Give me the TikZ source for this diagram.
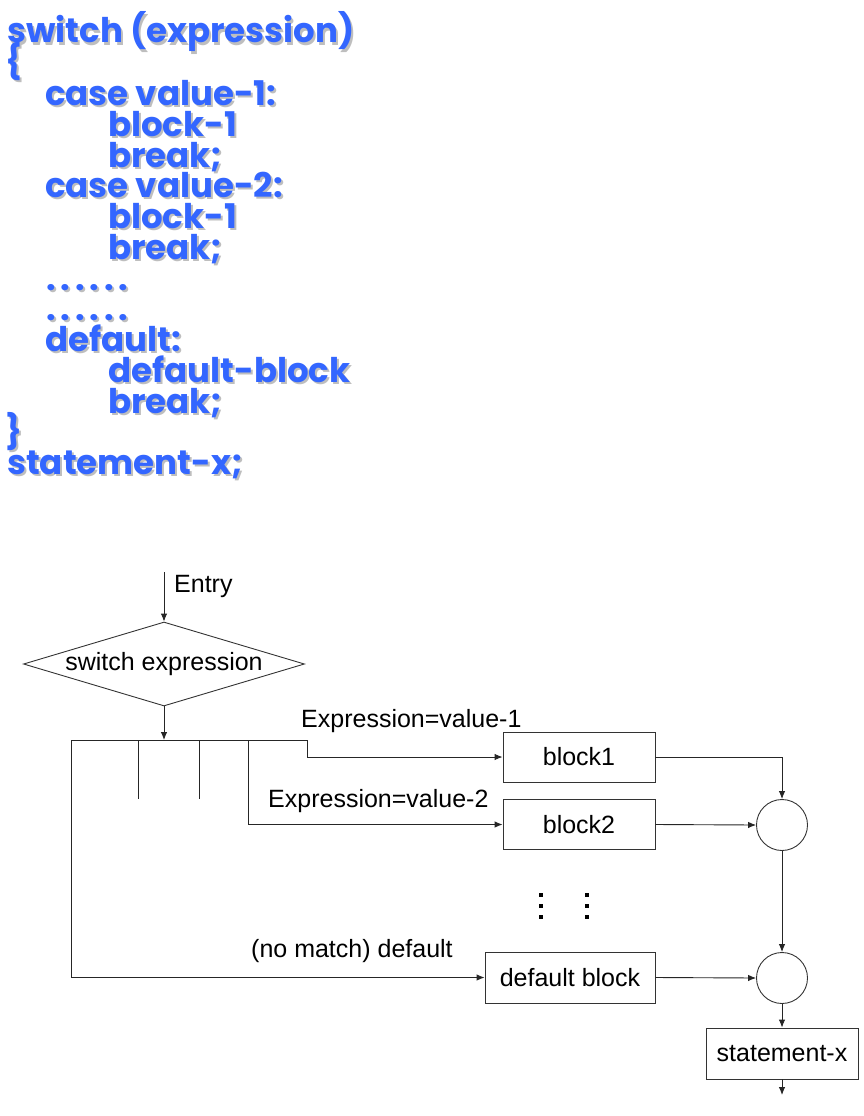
\documentclass[tikz,border=0pt]{standalone}
\usepackage{fontspec}
\setmainfont{Liberation Sans}
\newfontfamily\codefont{Poppins}
\usetikzlibrary{arrows.meta,shapes.geometric}
\definecolor{codeblue}{RGB}{51,102,255}
\definecolor{codeshade}{RGB}{190,190,190}
\newcommand\codeline[4]{%
  \node[codetxt] (#1) at (#2,#3) {\rlap{\hspace{2pt}\raisebox{-2pt}{\color{codeshade}#4}}#4};}
\newcommand\dotrow{\makebox[14.5pt][l]{.}\makebox[14.5pt][l]{.}\makebox[14.5pt][l]{.}\makebox[14.5pt][l]{.}\makebox[14.5pt][l]{.}\makebox[14.5pt][l]{.}}
\begin{document}
\begin{tikzpicture}[x=1pt,y=-1pt,
  codetxt/.style={anchor=base west,inner sep=0pt,text=codeblue,font=\codefont\bfseries\fontsize{34}{40}\selectfont},
  lbl/.style={anchor=base west,inner sep=0pt,font=\fontsize{25}{30}\selectfont},
  boxnode/.style={draw=black!80,line width=0.9pt,inner sep=0pt,font=\fontsize{25}{30}\selectfont},
  joinnode/.style={circle,draw=black!80,line width=0.9pt,minimum size=51pt,inner sep=0pt},
  conn/.style={line width=0.9pt,black!85},
  arr/.style={conn,-{Latex[length=8pt,width=6.5pt]}}
]
\useasboundingbox (0,0) rectangle (863,1116);
% ---- code ----
\codeline{l0}{7}{43}{switch (expression)}
\codeline{l1}{5}{74}{\{}
\codeline{l2}{45}{105}{case value-1:}
\codeline{l3}{108}{136}{block-1}
\codeline{l4}{108}{167}{break;}
\codeline{l5}{45}{197}{case value-2:}
\codeline{l6}{108}{228}{block-1}
\codeline{l7}{108}{259}{break;}
\codeline{l8}{46}{290}{\dotrow}
\codeline{l9}{46}{320}{\dotrow}
\codeline{l10}{45}{351}{default:}
\codeline{l11}{108}{382}{default-block}
\codeline{l12}{108}{413}{break;}
\codeline{l13}{5}{443}{\}}
\codeline{l14}{7}{474}{statement-x;}
% ---- flowchart ----
\coordinate (entry) at (164,572);
\node[lbl] (entrylbl) at (174,592) {Entry};
\node[diamond,draw=black!80,line width=0.9pt,inner sep=0pt,aspect=3.35,
      minimum width=281pt,minimum height=84pt,font=\fontsize{25}{30}\selectfont]
      (sw) at (164,664) {switch expression};
\draw[arr] (entry) -- (sw.north);
\coordinate (busin) at (164,740);
\coordinate (busL) at (71,740);
\coordinate (busR) at (307,740);
\coordinate (bus2) at (248,740);
\coordinate (t1) at (138,740);
\coordinate (t1e) at (138,799);
\coordinate (t2) at (199,740);
\coordinate (t2e) at (199,799);
\draw[arr] (sw.south) -- (busin);
\draw[conn] (busL) -- (busR);
\draw[conn] (t1) -- (t1e);
\draw[conn] (t2) -- (t2e);
\node[boxnode,minimum width=152pt,minimum height=50pt] (b1) at (579,757) {block1};
\node[boxnode,minimum width=152pt,minimum height=50pt] (b2) at (579,824.5) {block2};
\node[boxnode,minimum width=170pt,minimum height=51pt] (bd) at (570,977.5) {default block};
\node[boxnode,minimum width=152pt,minimum height=51pt] (sx) at (782,1053.5) {statement-x};
\node[joinnode] (j1) at (782,825) {};
\node[joinnode] (j2) at (782,978) {};
\coordinate (exitpt) at (782,1095);
\node[lbl] (v1lbl) at (301,727) {Expression=value-1};
\node[lbl] (v2lbl) at (268,807) {Expression=value-2};
\node[lbl] (dlbl) at (251,957) {(no match) default};
\draw[arr] (busR) |- (b1.west);
\draw[arr] (bus2) |- (b2.west);
\draw[arr] (busL) |- (bd.west);
\draw[arr] (b1.east) -| (j1.north);
\draw[arr] (b2.east) -- (j1.west);
\draw[arr] (j1.south) -- (j2.north);
\draw[arr] (bd.east) -- (j2.west);
\draw[arr] (j2.south) -- (sx.north);
\draw[arr] (sx.south) -- (exitpt);
% vertical ellipses
\foreach \xx in {541,587}{
  \foreach \yy in {895,906,917}{
    \fill[black] (\xx-1.8,\yy-1.8) rectangle (\xx+1.8,\yy+1.8);
  }
}
\end{tikzpicture}
\end{document}
